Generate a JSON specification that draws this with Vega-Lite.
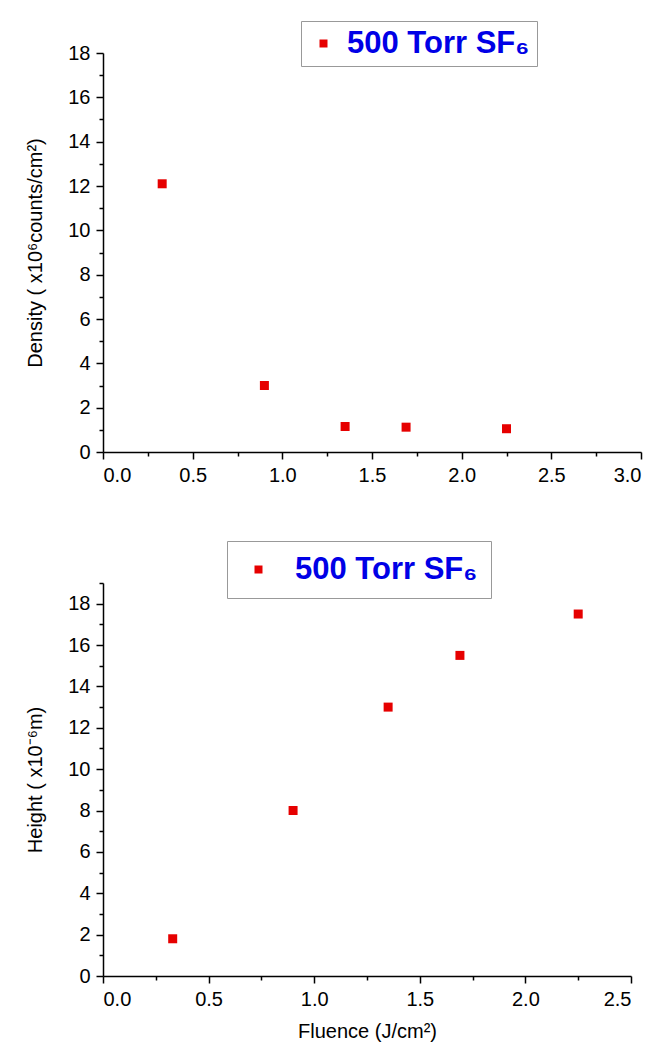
{
  "$schema": "https://vega.github.io/schema/vega-lite/v6.json",
  "background": "white",
  "padding": {"left": 25, "top": 20, "right": 8, "bottom": 5},
  "bounds": "flush",
  "spacing": 131,
  "config": {
    "view": {"stroke": null},
    "font": "Liberation Sans",
    "axis": {
      "grid": false,
      "domainColor": "#000",
      "tickColor": "#000",
      "labelColor": "#000",
      "titleColor": "#000",
      "labelFont": "Liberation Sans",
      "titleFont": "Liberation Sans",
      "labelFontSize": 20,
      "titleFontSize": 20,
      "titleFontWeight": "normal",
      "tickSize": 7,
      "tickWidth": 1.5,
      "domainWidth": 1.5,
      "labelPadding": 6
    },
    "legend": {
      "orient": "none",
      "title": null,
      "strokeColor": "#999999",
      "fillColor": "white",
      "labelFont": "Liberation Sans",
      "labelFontSize": 31,
      "labelFontWeight": "bold",
      "labelColor": "#0000e6",
      "labelLimit": 400,
      "symbolType": "square",
      "symbolSize": 64,
      "symbolStrokeWidth": 0,
      "symbolOpacity": 1
    }
  },
  "datasets": {
    "density": [
      {"fluence": 0.33, "value": 12.1, "series": "500 Torr SF₆"},
      {"fluence": 0.9, "value": 3.0, "series": "500 Torr SF₆"},
      {"fluence": 1.35, "value": 1.15, "series": "500 Torr SF₆"},
      {"fluence": 1.69, "value": 1.12, "series": "500 Torr SF₆"},
      {"fluence": 2.25, "value": 1.05, "series": "500 Torr SF₆"}
    ],
    "height": [
      {"fluence": 0.33, "value": 1.8, "series": "500 Torr SF₆"},
      {"fluence": 0.9, "value": 8.0, "series": "500 Torr SF₆"},
      {"fluence": 1.35, "value": 13.0, "series": "500 Torr SF₆"},
      {"fluence": 1.69, "value": 15.5, "series": "500 Torr SF₆"},
      {"fluence": 2.25, "value": 17.5, "series": "500 Torr SF₆"}
    ]
  },
  "resolve": {"scale": {"color": "independent"}, "legend": {"color": "independent"}},
  "vconcat": [
    {
      "width": 538,
      "height": 399,
      "data": {"name": "density"},
      "resolve": {"axis": {"x": "independent", "y": "independent"}},
      "layer": [
        {
          "mark": {"type": "square", "size": 81, "opacity": 1},
          "encoding": {
            "x": {"field": "fluence", "type": "quantitative", "scale": {"domain": [0, 3], "nice": false, "zero": true},
                  "axis": {"orient": "bottom", "values": [0, 0.5, 1, 1.5, 2, 2.5, 3], "format": ".1f", "title": null}},
            "y": {"field": "value", "type": "quantitative", "scale": {"domain": [0, 18], "nice": false},
                  "axis": {"orient": "left", "values": [0, 2, 4, 6, 8, 10, 12, 14, 16, 18], "format": "d", "title": "Density ( x10⁶counts/cm²)", "titlePadding": 22}},
            "color": {"field": "series", "type": "nominal", "scale": {"range": ["#e60000"]},
                      "legend": {"legendX": 198, "legendY": -32, "padding": 7, "symbolOffset": 0, "labelOffset": 8}}
          }
        },
        {
          "mark": {"type": "square", "opacity": 0},
          "encoding": {
            "x": {"field": "fluence", "type": "quantitative",
                  "axis": {"orient": "bottom", "values": [0.25, 0.75, 1.25, 1.75, 2.25, 2.75], "labels": false, "domain": false, "tickSize": 4, "title": null}},
            "y": {"field": "value", "type": "quantitative",
                  "axis": {"orient": "left", "values": [1, 3, 5, 7, 9, 11, 13, 15, 17], "labels": false, "domain": false, "tickSize": 4, "title": null}}
          }
        }
      ]
    },
    {
      "width": 528,
      "height": 393,
      "data": {"name": "height"},
      "resolve": {"axis": {"x": "independent", "y": "independent"}},
      "layer": [
        {
          "mark": {"type": "square", "size": 81, "opacity": 1},
          "encoding": {
            "x": {"field": "fluence", "type": "quantitative", "scale": {"domain": [0, 2.5], "nice": false, "zero": true},
                  "axis": {"orient": "bottom", "values": [0, 0.5, 1, 1.5, 2, 2.5], "format": ".1f", "title": "Fluence (J/cm²)", "titlePadding": 12}},
            "y": {"field": "value", "type": "quantitative", "scale": {"domain": [0, 19], "nice": false},
                  "axis": {"orient": "left", "values": [0, 2, 4, 6, 8, 10, 12, 14, 16, 18], "format": "d", "title": "Height ( x10⁻⁶m)", "titlePadding": 22}},
            "color": {"field": "series", "type": "nominal", "scale": {"range": ["#e60000"]},
                      "legend": {"legendX": 124, "legendY": -42, "padding": 13, "symbolOffset": 3, "labelOffset": 21}}
          }
        },
        {
          "mark": {"type": "square", "opacity": 0},
          "encoding": {
            "x": {"field": "fluence", "type": "quantitative",
                  "axis": {"orient": "bottom", "values": [0.25, 0.75, 1.25, 1.75, 2.25], "labels": false, "domain": false, "tickSize": 4, "title": null}},
            "y": {"field": "value", "type": "quantitative",
                  "axis": {"orient": "left", "values": [1, 3, 5, 7, 9, 11, 13, 15, 17, 19], "labels": false, "domain": false, "tickSize": 4, "title": null}}
          }
        }
      ]
    }
  ]
}
